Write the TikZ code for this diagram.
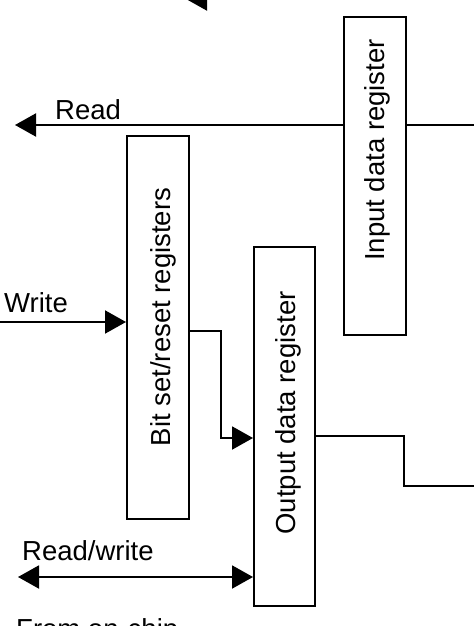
\documentclass[tikz,border=0pt]{standalone}
\usepackage{fontspec}
\setmainfont{Liberation Sans}
\usetikzlibrary{arrows.meta}
\begin{document}
\begin{tikzpicture}[x=1pt,y=-1pt,
  reg/.style={draw,line width=2pt,inner sep=0pt},
  lbl/.style={font=\fontsize{27.5}{33}\selectfont,inner sep=0pt},
  wire/.style={line width=2pt},
  arr/.style={-{Triangle[length=21pt,width=23pt]}},
  darr/.style={{Triangle[length=21pt,width=23pt]}-{Triangle[length=21pt,width=23pt]}}]
\useasboundingbox (0,0) rectangle (474,626);
\clip (0,0) rectangle (474,626);
% registers
\node[reg,minimum width=62pt,minimum height=318pt] (in) at (374.5,176) {};
\node[reg,minimum width=62pt,minimum height=383pt] (bs) at (158,327.5) {};
\node[reg,minimum width=61pt,minimum height=359pt] (out) at (284.5,426.5) {};
\node[lbl,rotate=90,anchor=base] (intext) at (384,150) {Input data register};
\node[lbl,rotate=90,anchor=base] (bstext) at (170,317) {Bit set/reset registers};
\node[lbl,rotate=90,anchor=base] (outtext) at (295,413) {Output data register};
% labels
\node[lbl,anchor=base west] (read) at (55,119) {Read};
\node[lbl,anchor=base west] (write) at (4,312) {Write};
\node[lbl,anchor=base west] (rw) at (22,560) {Read/write};
\node[lbl,anchor=base west] (from) at (16,638) {From on-chip};
% free ends
\coordinate (readL) at (15,125);
\coordinate (readR) at (474,125);
\coordinate (wL) at (0,322);
\coordinate (rwL) at (18,577);
\coordinate (outR) at (474,486);
\coordinate (topR) at (474,-1);
\coordinate (topL) at (186,-1);
% connectors
\draw[wire,arr] (in.west |- readL) -- (readL);
\draw[wire] (in.east |- readR) -- (readR);
\draw[wire,arr] (wL) -- (bs.west |- wL);
\draw[wire,arr] (bs.east |- 0,331) -- (221,331) -- (221,438) -- (out.west |- 0,438);
\draw[wire] (out.east |- 0,436) -- (404,436) -- (404,486) -- (outR);
\draw[wire,darr] (rwL) -- (out.west |- rwL);
\draw[wire,arr] (topR) -- (topL);
\end{tikzpicture}
\end{document}
